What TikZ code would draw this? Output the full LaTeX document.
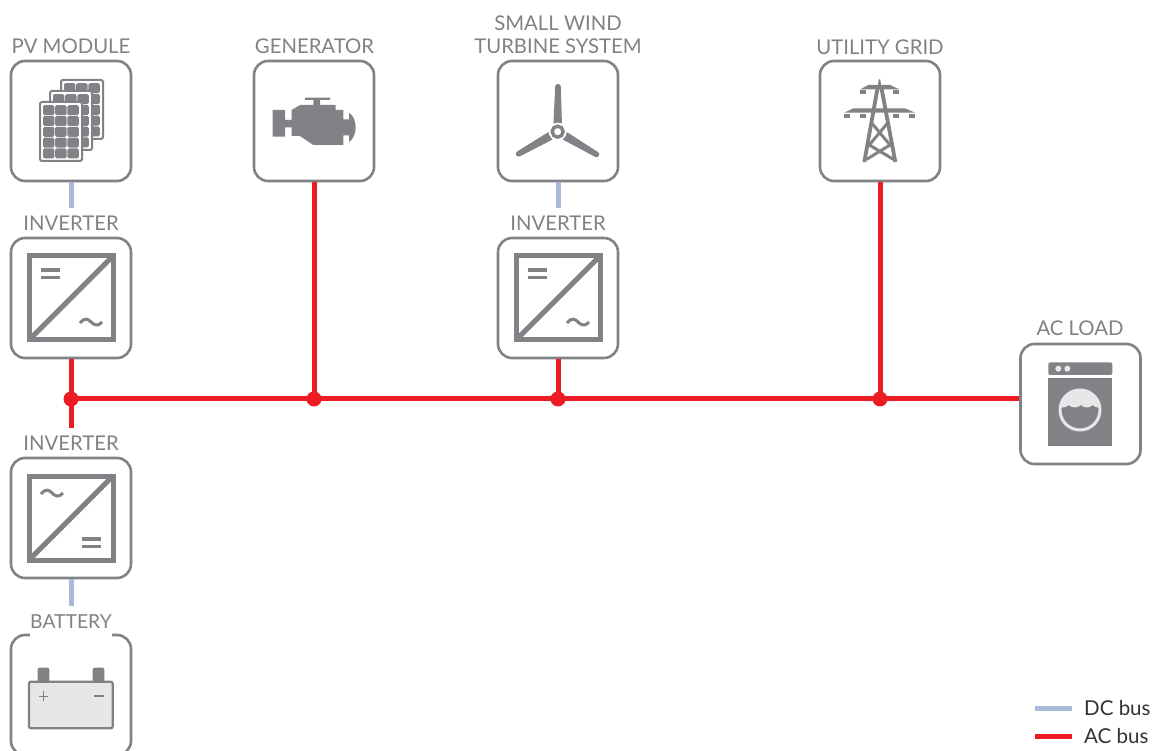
\documentclass[tikz,border=0pt]{standalone}
\usepackage{fontspec}
\setmainfont{Lato}
\definecolor{sg}{HTML}{808285}
\definecolor{lg}{HTML}{E6E7E8}
\definecolor{dcb}{HTML}{A7BBD9}
\definecolor{acb}{HTML}{ED1C24}
\newcommand{\pvpanel}[2]{%
  \fill[white,draw=sg,line width=2pt,rounded corners=1.5pt] (#1,#2) rectangle ++(42,59);
  \foreach \ci in {0,1,2}\foreach \cj in {0,1,2,3,4}{%
    \fill[sg,rounded corners=1.5pt] ({#1+3+\ci*12.2},{#2+3.2+\cj*10.8}) rectangle ++(11.4,10);}%
}
\begin{document}
\begin{tikzpicture}[x=1pt,y=-1pt,
  box/.style={draw=sg,line width=2.6pt,rounded corners=14pt,minimum size=120pt,inner sep=0pt,fill=white},
  lab/.style={text=sg,font=\fontsize{20.3}{22}\selectfont,inner sep=0pt,align=center},
  dcl/.style={draw=dcb,line width=5pt},
  acl/.style={draw=acb,line width=5pt},
  dot/.style={circle,fill=acb,inner sep=0pt,minimum size=15pt},
  legt/.style={text=black!80,font=\fontsize{20.5}{22}\selectfont,inner sep=0pt,anchor=base west},
  zm/.style 2 args={shift={(#1,#2)},x=0.33333pt,y=-0.33333pt},
  conv/.style={draw=sg,line width=5pt,line join=miter}]
\clip (0,0) rectangle (1160,751);
\fill[white] (0,0) rectangle (1160,751);
% connectors' free ends
\coordinate (d1) at (71,208);
\coordinate (d2) at (558,208);
\coordinate (d3) at (71,606);
\coordinate (r1) at (71,428);
\coordinate (lg1) at (1035,708);
\coordinate (lg2) at (1072,708);
\coordinate (lg3) at (1035,736);
\coordinate (lg4) at (1072,736);
% boxes
\node[box] (pv) at (71,121) {};
\node[box] (gen) at (314,121) {};
\node[box] (wind) at (558,121) {};
\node[box] (grid) at (880,121) {};
\node[box] (inva) at (71,298) {};
\node[box] (invb) at (558,298) {};
\node[box] (invc) at (71,518) {};
\node[box] (bat) at (71,695) {};
\node[box] (load) at (1080.5,404) {};
% junctions
\node[dot] (j1) at (71,399) {};
\node[dot] (j2) at (314,399) {};
\node[dot] (j3) at (558,399) {};
\node[dot] (j4) at (880,399) {};
% connectors
\draw[dcl] (pv.south) -- (d1);
\draw[dcl] (wind.south) -- (d2);
\draw[dcl] (invc.south) -- (d3);
\draw[acl] (inva.south) -- (j1.center) -- (r1);
\draw[acl] (gen.south) -- (j2.center);
\draw[acl] (invb.south) -- (j3.center);
\draw[acl] (grid.south) -- (j4.center);
\draw[acl] (j1.center) -- (j1.center -| load.west);
\draw[dcl] (lg1) -- (lg2);
\draw[acl] (lg3) -- (lg4);
% labels
\node[lab] (lpv) at (71,46) {PV MODULE};
\node[lab] (lgen) at (314.5,46) {GENERATOR};
\node[lab] (lwind) at (558,34.5) {SMALL WIND\\[1pt]TURBINE SYSTEM};
\node[lab] (lgrid) at (880,47) {UTILITY GRID};
\node[lab] (linva) at (71,223) {INVERTER};
\node[lab] (linvb) at (558,223) {INVERTER};
\node[lab] (linvc) at (71,443) {INVERTER};
\node[lab,fill=white,minimum height=30pt,text depth=0pt] (lbat) at (71,622) {\fontsize{19.3}{22}\selectfont BATTERY};
\node[lab] (lload) at (1080,328) {AC LOAD};
\node[legt] (tdc) at (1084,715) {DC bus};
\node[legt] (tac) at (1084,743) {AC bus};
% PV icon
\pvpanel{61}{80}
\pvpanel{50}{91}
\pvpanel{40}{102}
% engine
\begin{scope}[zm={245}{30}]
\fill[sg] (83,240) -- (120,240) -- (120,270) -- (140,270) -- (140,240) -- (165,225) -- (205,225) -- (205,210) -- (180,210) -- (180,203) -- (255,203) -- (255,210) -- (225,210) -- (225,225) -- (272,225) -- (272,240) -- (295,240) -- (295,268) -- (312,268) -- (312,248) .. controls (325,255) and (332,275) .. (332,292) .. controls (332,310) and (325,328) .. (312,336) -- (312,316) -- (295,316) -- (295,345) -- (205,345) -- (165,318) -- (140,318) -- (140,292) -- (120,292) -- (120,320) -- (83,320) -- cycle;
\end{scope}
% turbine
\begin{scope}[zm={480}{10}]
\foreach \a in {0,120,240}{
  \fill[sg,rotate around={\a:(233,365)},rounded corners=2.5pt] (220,345) -- (246,345) -- (242,222) -- (226,222) -- cycle;
}
\fill[white] (233,365) circle (27);
\draw[sg,line width=3.4pt] (233,365) circle (16.5);
\end{scope}
% pylon
\begin{scope}[zm={810}{30}]
\fill[sg] (204,165) -- (206,148) -- (211,148) -- (213,165) -- cycle;
\fill[sg] (150,178) -- (175,165) -- (240,165) -- (268,178) -- cycle;
\fill[sg] (103,248) -- (130,235) -- (285,235) -- (315,248) -- cycle;
\foreach \xx in {150,250}{\fill[sg] (\xx,180) rectangle ++(18,11);}
\foreach \xx in {102,150,250,297}{\fill[sg] (\xx,252) rectangle ++(18,12);}
\draw[sg,line width=3.8pt] (203,172) -- (163,396) (214,172) -- (256,396);
\draw[sg,line width=3pt] (186,280) -- (240,345) -- (170,388) (232,280) -- (178,345) -- (250,388);
\end{scope}
% inverters
\foreach \cx/\cy in {71/298,558/298}{
\begin{scope}[shift={(\cx,\cy)}]
\draw[conv] (-42,-42) rectangle (42,42);
\draw[conv] (-42,42) -- (42,-42);
\draw[sg,line width=3.2pt] (-30,-28) -- (-11,-28) (-30,-20.5) -- (-11,-20.5);
\draw[sg,line width=3pt] (9,25) .. controls (14,19) and (17,21) .. (20,24) .. controls (23,27) and (27,29) .. (31,24);
\end{scope}}
\begin{scope}[shift={(71,518)}]
\draw[conv] (-42,-42) rectangle (42,42);
\draw[conv] (-42,42) -- (42,-42);
\draw[sg,line width=3.2pt] (11,21) -- (30,21) (11,28.5) -- (30,28.5);
\draw[sg,line width=3pt] (-30,-24) .. controls (-25,-30) and (-22,-28) .. (-19,-25) .. controls (-16,-22) and (-12,-20) .. (-8,-25);
\end{scope}
% battery
\begin{scope}[zm={0}{600}]
\fill[sg,rounded corners=2pt] (113,250) -- (113,203) -- (148,203) -- (148,250) -- cycle;
\fill[sg,rounded corners=2pt] (278,250) -- (278,203) -- (313,203) -- (313,250) -- cycle;
\draw[sg,fill=lg,line width=2.2pt,rounded corners=2pt] (87,245) rectangle (338,385);
\draw[sg,line width=1pt] (116,288) -- (144,288) (130,274) -- (130,302);
\draw[sg,line width=1.3pt] (283,288) -- (311,288);
\end{scope}
% washer
\begin{scope}[zm={1010}{315}]
\fill[sg,rounded corners=2pt] (115,142) rectangle (307,180);
\fill[lg] (145,161) circle (9) (172,161) circle (9);
\fill[sg] (115,190) rectangle (307,392);
\begin{scope}
\clip (210,285) circle (60);
\fill[lg] (140,215) -- (280,215) -- (280,270) .. controls (270,280) and (258,280) .. (248,270) .. controls (240,280) and (222,280) .. (212,270) .. controls (204,280) and (186,280) .. (176,270) .. controls (168,280) and (150,280) .. (140,270) -- cycle;
\end{scope}
\draw[lg,line width=3pt] (210,285) circle (60);
\end{scope}
\end{tikzpicture}
\end{document}
